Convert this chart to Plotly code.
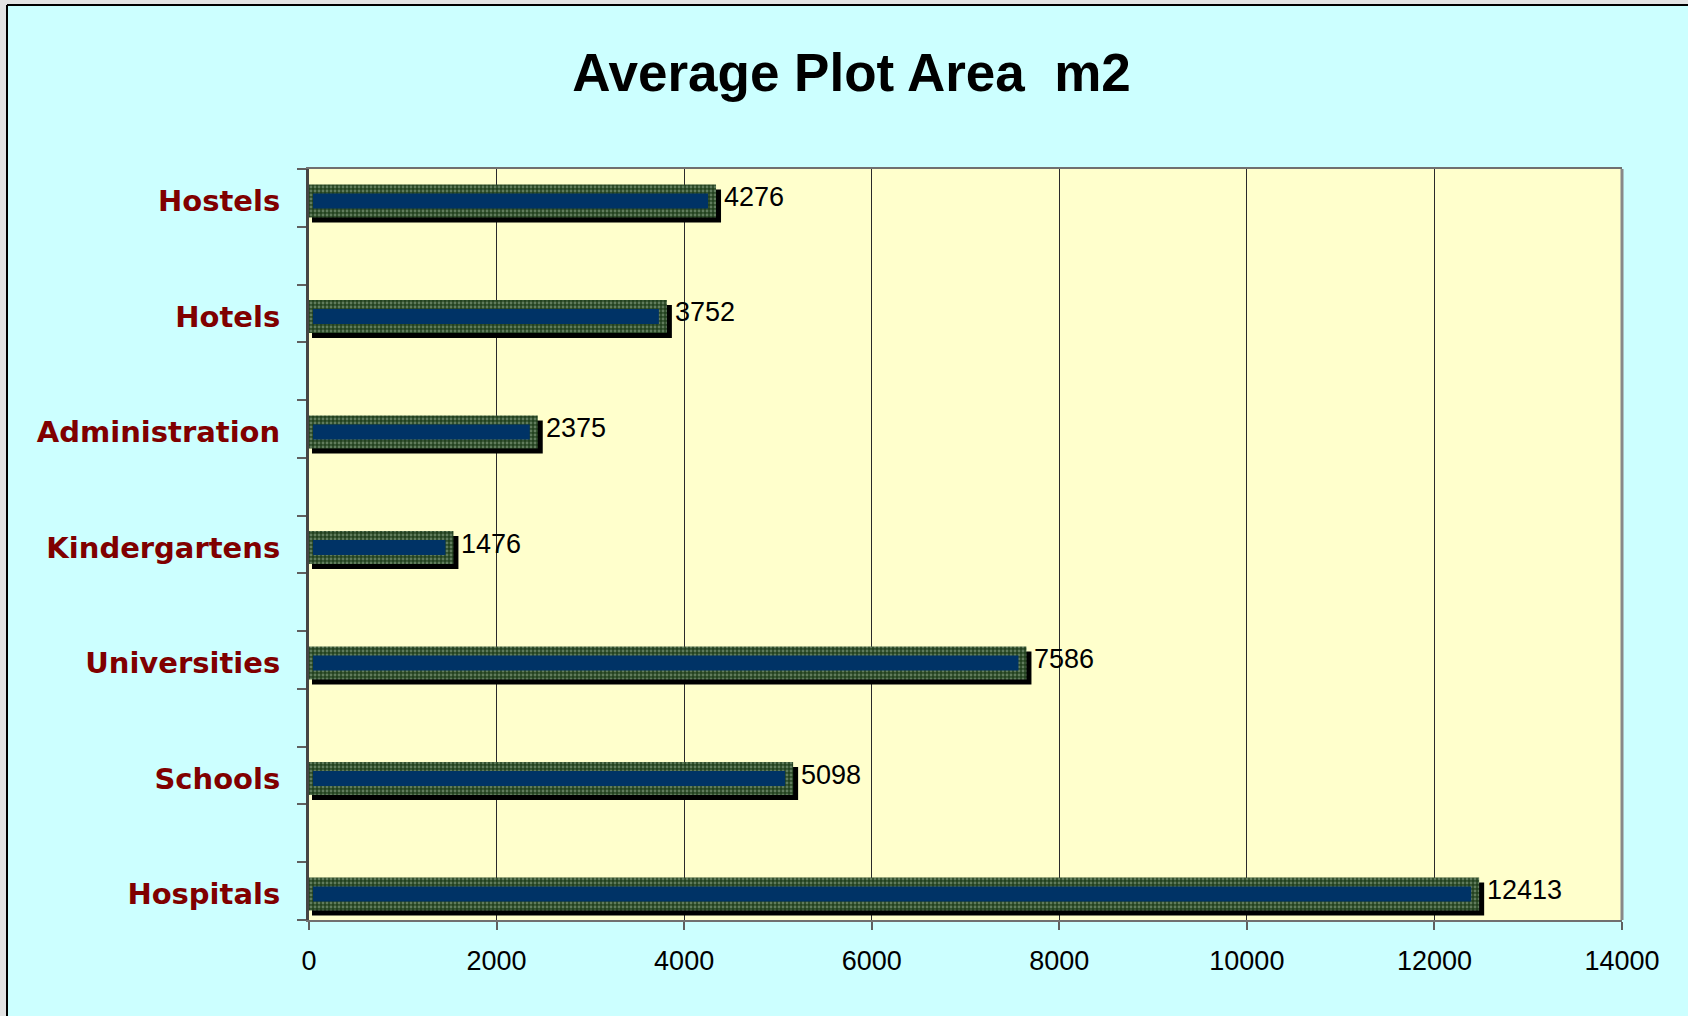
import plotly.graph_objects as go

# ---- data (bottom to top) ----
categories = ["Hospitals", "Schools", "Universities", "Kindergartens",
              "Administration", "Hotels", "Hostels"]
values = [12413, 5098, 7586, 1476, 2375, 3752, 4276]
x_ticks = [0, 2000, 4000, 6000, 8000, 10000, 12000, 14000]
title_text = "Average Plot Area \u00a0m2"

# ---- layout geometry ----
W, H = 1688, 1016
L, R, T, B = 309, 1622, 169, 920
XMAX = 14000
PX = XMAX / (R - L)          # data units per pixel on x
pos = [2 * i for i in range(len(categories))]
YR = (-0.5, 2 * (len(categories) - 1) + 0.5)
PY = (YR[1] - YR[0]) / (B - T)  # y units per pixel

def xp(px):
    return (px - L) / (R - L)

def yp(py):
    return (B - py) / (B - T)

green_w = 33 * PY
blue_w = 15 * PY
shift = 3 * PY
green_off = -shift - green_w / 2
blue_off = -shift - blue_w / 2
shadow_off = green_off - 5 * PY

fig = go.Figure()

# shadow
fig.add_trace(go.Bar(
    y=pos, x=[v + 8 * PX for v in values], base=3 * PX,
    orientation="h", width=green_w, offset=shadow_off,
    marker=dict(color="#000000", line=dict(width=0)),
    hoverinfo="skip", showlegend=False))
# patterned green frame
fig.add_trace(go.Bar(
    y=pos, x=[v + 6 * PX for v in values], base=0,
    orientation="h", width=green_w, offset=green_off,
    marker=dict(color="#23421F", line=dict(width=0),
                pattern=dict(shape=".", fgcolor="#9DB59A", bgcolor="#23421F",
                             size=4, solidity=0.4)),
    hoverinfo="skip", showlegend=False))
# blue core
fig.add_trace(go.Bar(
    y=pos, x=[v - 6 * PX for v in values], base=4 * PX,
    orientation="h", width=blue_w, offset=blue_off,
    marker=dict(color="#003366", line=dict(width=0)),
    name="Average plot area", showlegend=False))

annotations = []
for p, v in zip(pos, values):
    annotations.append(dict(
        x=v, y=p, xref="x", yref="y", text=str(v), showarrow=False,
        xanchor="left", yanchor="middle", xshift=12, yshift=1,
        font=dict(family="Liberation Sans", size=27, color="#000000")))

shapes = [
    # page strips outside chart border
    dict(type="rect", xref="paper", yref="paper", x0=xp(0), x1=xp(7), y0=yp(H), y1=yp(0),
         line=dict(width=0), fillcolor="#E3E3E3", layer="above"),
    dict(type="rect", xref="paper", yref="paper", x0=xp(0), x1=xp(W), y0=yp(5), y1=yp(0),
         line=dict(width=0), fillcolor="#E3E3E3", layer="above"),
    # chart border lines
    dict(type="line", xref="paper", yref="paper", x0=xp(7), x1=xp(7), y0=yp(H + 5), y1=yp(5),
         line=dict(color="#000000", width=2), layer="above"),
    dict(type="line", xref="paper", yref="paper", x0=xp(7), x1=xp(W + 5), y0=yp(5), y1=yp(5),
         line=dict(color="#000000", width=2), layer="above"),
    # right border of plot area
    dict(type="line", xref="paper", yref="paper", x0=1, x1=1, y0=0, y1=1,
         line=dict(color="#888888", width=3), layer="above"),
]

label_pos = [p - 3 * PY for p in pos]

fig.update_layout(
    width=W, height=H,
    margin=dict(l=L, r=W - R, t=T, b=H - B, pad=0),
    paper_bgcolor="#CCFFFF",
    plot_bgcolor="#FFFFCC",
    barmode="overlay",
    showlegend=False,
    title=dict(text=title_text, x=851.5 / W, xanchor="center",
               y=1 - 72 / H, yanchor="middle", yref="container",
               font=dict(family="Liberation Sans", size=53, color="#000000", weight="bold")),
    annotations=annotations,
    shapes=shapes,
    xaxis=dict(range=[0, XMAX], tickvals=x_ticks, ticktext=[str(t) for t in x_ticks],
               showgrid=True, gridcolor="#2A2A2A", gridwidth=1,
               ticks="outside", ticklen=8, tickwidth=2, tickcolor="#606060",
               showline=True, linecolor="#707070", linewidth=2, mirror=True,
               zeroline=False, ticklabelstandoff=8,
               tickfont=dict(family="Liberation Sans", size=27, color="#000000")),
    yaxis=dict(range=list(YR), tickvals=label_pos, ticktext=categories,
               showgrid=False, zeroline=False, ticks="",
               showline=True, linecolor="#454545", linewidth=3,
               ticklabelstandoff=20,
               minor=dict(tick0=-0.5, dtick=1, ticks="outside", ticklen=9,
                          tickwidth=2, tickcolor="#606060", showgrid=False),
               tickfont=dict(family="DejaVu Sans", size=29, color="#800000", weight="bold")),
)

fig.write_html("out.html", config={"displayModeBar": False})

# remove the default page margin so the figure sits at the window's top-left corner
with open("out.html", "r", encoding="utf-8") as f:
    html = f.read()
html = html.replace("<head>", "<head><style>html,body{margin:0;padding:0;overflow:hidden;}</style>", 1)
with open("out.html", "w", encoding="utf-8") as f:
    f.write(html)
